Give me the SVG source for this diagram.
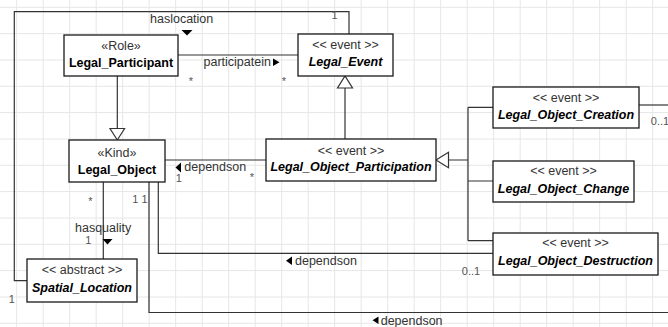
<svg xmlns="http://www.w3.org/2000/svg" width="668" height="327" viewBox="0 0 668 327">
<style>
text{font-family:"Liberation Sans",Arial,sans-serif}
.grid{stroke:#e6e6e6;stroke-width:1;fill:none}
.box{fill:#fff;stroke:#1a1a1a;stroke-width:1.3}
.st{font-size:12.5px;fill:#333;text-anchor:middle}
.nm{font-size:12.5px;fill:#000;font-weight:bold;text-anchor:middle}
.it{font-style:italic}
.ln{fill:none;stroke:#333;stroke-width:1.2}
.hol{fill:#fff;stroke:#333;stroke-width:1.2}
.dir{fill:#000}
.lbl{font-size:12.5px;fill:#333}
.mul{font-size:11px;fill:#555;text-anchor:middle}
</style>
<rect width="668" height="327" fill="#fff"/>
<path class="grid" d="M16.7 0V327M43.2 0V327M69.7 0V327M96.2 0V327M122.7 0V327M149.2 0V327M175.7 0V327M202.2 0V327M228.7 0V327M255.2 0V327M281.7 0V327M308.2 0V327M334.7 0V327M361.2 0V327M387.7 0V327M414.2 0V327M440.7 0V327M467.2 0V327M493.7 0V327M520.2 0V327M546.7 0V327M573.2 0V327M599.7 0V327M626.2 0V327M652.7 0V327M0 7.3H668M0 33.6H668M0 60H668M0 86.3H668M0 112.6H668M0 139H668M0 165.3H668M0 191.6H668M0 218H668M0 244.3H668M0 270.6H668M0 297H668M0 323.3H668"/>
<g id="connectors">
<path class="ln" d="M27 280.7H14.3V11.7H349V34.3"/>
<path class="ln" d="M178 55H298"/>
<path class="ln" d="M117.3 76V128.5"/>
<polygon class="hol" points="110,128.5 124.6,128.5 117.3,140"/>
<path class="ln" d="M345 139V88"/>
<polygon class="hol" points="337.5,88 352.5,88 345,76"/>
<path class="ln" d="M448.5 160H468M468 107.3V240.7M468 107.3H493M468 181H493M468 240.7H493"/>
<polygon class="hol" points="448.5,152.3 448.5,167.7 436,160"/>
<path class="ln" d="M165 160H266"/>
<path class="ln" d="M103.3 182V259"/>
<path class="ln" d="M158.3 182V253.3H493"/>
<path class="ln" d="M149 182V312.5H668"/>
<path class="ln" d="M639 105H668"/>
<polygon class="dir" points="181.5,30 192.5,30 187,35.5"/>
<polygon class="dir" points="273,58.5 273,66 279.5,62.3"/>
<polygon class="dir" points="181,162.5 181,172.5 175.5,167.5"/>
<polygon class="dir" points="102.5,239 112.5,239 107.5,244.5"/>
<polygon class="dir" points="292,256.5 292,265 286,260.7"/>
<polygon class="dir" points="378.5,316.5 378.5,324 372.5,320.2"/>
<text class="lbl" x="150" y="23">haslocation</text>
<text class="lbl" x="203.5" y="66">participatein</text>
<text class="lbl" x="184.3" y="171">dependson</text>
<text class="lbl" x="75" y="231.5">hasquality</text>
<text class="lbl" x="295" y="265">dependson</text>
<text class="lbl" x="380.7" y="324.5">dependson</text>
<text class="mul" x="334.5" y="18.5">1</text>
<text class="mul" x="11.7" y="302.5">1</text>
<text class="mul" x="191" y="85">*</text>
<text class="mul" x="284" y="85">*</text>
<text class="mul" x="178.7" y="181.7">1</text>
<text class="mul" x="252" y="181">*</text>
<text class="mul" x="90.5" y="204.5">*</text>
<text class="mul" x="140" y="203.3">1 1</text>
<text class="mul" x="88.3" y="244">1</text>
<text class="mul" x="471" y="275">0..1</text>
<text class="mul" x="660" y="125">0..1</text>
</g>
<g id="Legal_Participant">
<rect class="box" x="64" y="35" width="114" height="41"/>
<text class="st" x="121" y="50">«Role»</text>
<text class="nm" x="121" y="66.5">Legal_Participant</text>
</g>
<g id="Legal_Event">
<rect class="box" x="298" y="34" width="95" height="42"/>
<text class="st" x="345.5" y="48.5">&lt;&lt; event &gt;&gt;</text>
<text class="nm it" x="345.5" y="65.5">Legal_Event</text>
</g>
<g id="Legal_Object_Creation">
<rect class="box" x="493" y="87" width="146" height="41"/>
<text class="st" x="566" y="101.5">&lt;&lt; event &gt;&gt;</text>
<text class="nm it" x="566" y="118.5">Legal_Object_Creation</text>
</g>
<g id="Legal_Object_Participation">
<rect class="box" x="266" y="139" width="170" height="42"/>
<text class="st" x="351" y="155">&lt;&lt; event &gt;&gt;</text>
<text class="nm it" x="351" y="171">Legal_Object_Participation</text>
</g>
<g id="Legal_Object_Change">
<rect class="box" x="493" y="161" width="141" height="41"/>
<text class="st" x="563.5" y="175">&lt;&lt; event &gt;&gt;</text>
<text class="nm it" x="563.5" y="192.5">Legal_Object_Change</text>
</g>
<g id="Legal_Object_Destruction">
<rect class="box" x="493" y="233" width="165" height="42"/>
<text class="st" x="575.5" y="247">&lt;&lt; event &gt;&gt;</text>
<text class="nm it" x="575.5" y="265">Legal_Object_Destruction</text>
</g>
<g id="Legal_Object">
<rect class="box" x="69" y="140" width="96" height="42"/>
<text class="st" x="117" y="157">«Kind»</text>
<text class="nm" x="117" y="173.5">Legal_Object</text>
</g>
<g id="Spatial_Location">
<rect class="box" x="27" y="259" width="110" height="43"/>
<text class="st" x="82" y="274">&lt;&lt; abstract &gt;&gt;</text>
<text class="nm it" x="82" y="292">Spatial_Location</text>
</g>
</svg>
